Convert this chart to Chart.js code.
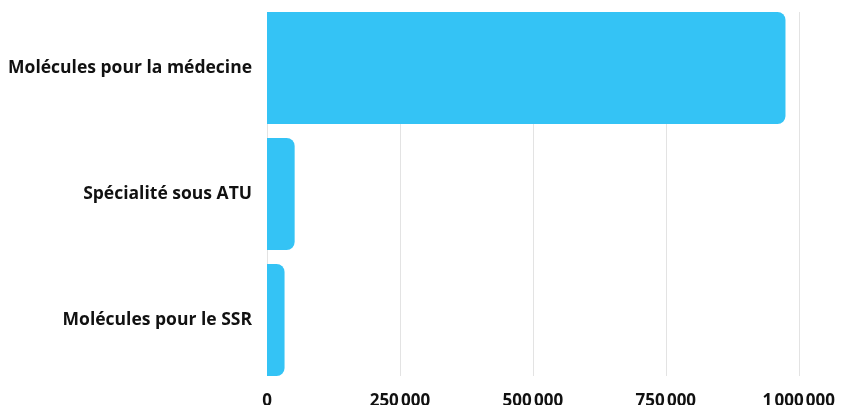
<!DOCTYPE html>
<html>
<head>
<meta charset="utf-8">
<script src="https://cdn.jsdelivr.net/npm/chart.js@4"></script>
<style>
    html, body { margin: 0; padding: 0; background: #fff; }
    #wrap { width: 845px; height: 405px; }
</style>
</head>
<body>
<div id="wrap"><canvas id="moleculesChart"></canvas></div>
<script>
// Categories and values
const categories = ['Molécules pour la médecine', 'Spécialité sous ATU', 'Molécules pour le SSR'];
const values = [975000, 52000, 33000];
const xTicks = [0, 250000, 500000, 750000, 1000000];

const barColor = 'rgb(52, 195, 245)';
const gridColor = '#e3e3e3';

// Format numbers with a narrow space as thousands separator
function formatNumber(num) {
    return String(num).replace(/\B(?=(\d{3})+(?!\d))/g, '\u202F');
}

// Grid lines drawn only between the top of the first bar and the bottom of the last one
const barSpanGrid = {
    id: 'barSpanGrid',
    beforeDatasetsDraw(chart) {
        const bars = chart.getDatasetMeta(0).data;
        if (!bars.length) return;
        const top = bars[0].y - bars[0].height / 2;
        const last = bars[bars.length - 1];
        const bottom = last.y + last.height / 2;
        const x = chart.scales.x;
        const ctx = chart.ctx;
        ctx.save();
        ctx.strokeStyle = gridColor;
        ctx.lineWidth = 1;
        xTicks.forEach(t => {
            const px = Math.round(x.getPixelForValue(t)) + 0.5;
            ctx.beginPath();
            ctx.moveTo(px, top);
            ctx.lineTo(px, bottom);
            ctx.stroke();
        });
        ctx.restore();
    }
};

const font = { family: 'Open Sans', weight: 'bold', size: 17.5 };

new Chart(document.getElementById('moleculesChart'), {
    type: 'bar',
    data: {
        labels: categories,
        datasets: [{
            data: values,
            backgroundColor: barColor,
            borderRadius: 8,
            borderSkipped: 'start',
            categoryPercentage: 1,
            barPercentage: 0.889
        }]
    },
    options: {
        indexAxis: 'y',
        responsive: true,
        maintainAspectRatio: false,
        animation: false,
        layout: {
            padding: { top: 5, right: 10, left: 0, bottom: 0 }
        },
        plugins: {
            legend: { display: false },
            tooltip: { enabled: false }
        },
        scales: {
            x: {
                min: 0,
                max: 1000000,
                afterBuildTicks: axis => {
                    axis.ticks = xTicks.map(v => ({ value: v }));
                },
                afterFit: axis => {
                    axis.height = 22;
                },
                grid: { display: false, drawTicks: false },
                border: { display: false },
                ticks: {
                    color: '#111',
                    font: { ...font, size: 17, lineHeight: 1 },
                    padding: 10,
                    maxRotation: 0,
                    callback: v => formatNumber(v)
                }
            },
            y: {
                grid: { display: false, drawTicks: false },
                border: { display: false },
                afterFit: axis => {
                    axis.width = 267;
                    axis.paddingTop = 0;
                    axis.paddingBottom = 0;
                },
                ticks: {
                    color: '#111',
                    font: font,
                    padding: 15
                }
            }
        }
    },
    plugins: [barSpanGrid]
});
</script>
</body>
</html>
